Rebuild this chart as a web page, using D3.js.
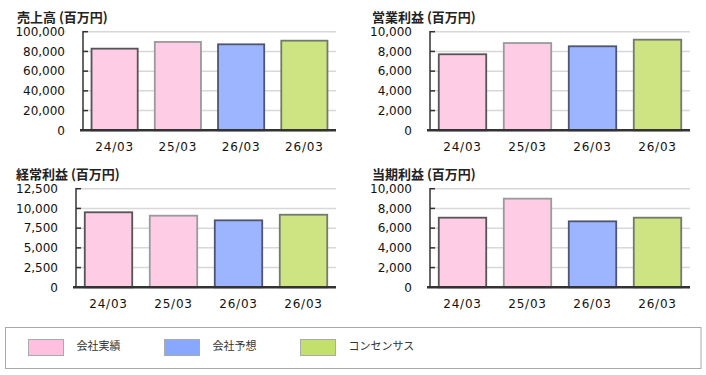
<!DOCTYPE html>
<html>
<head>
<meta charset="utf-8">
<script src="https://cdn.jsdelivr.net/npm/d3@7"></script>
<style>
  body { margin: 0; background: #fff; }
  svg { display: block; }
</style>
</head>
<body>
<div id="vis"></div>
<script>
// data
const periods = ["24/03", "25/03", "26/03", "26/03"];
const kinds = ["会社実績", "会社実績", "会社予想", "コンセンサス"];
const sales = [82800, 89600, 87200, 90900];
const operatingProfit = [7710, 8850, 8520, 9190];
const ordinaryProfit = [9510, 9080, 8490, 9200];
const netProfit = [7060, 8990, 6690, 7060];
const salesTicks = [0, 20000, 40000, 60000, 80000, 100000];
const opTicks = [0, 2000, 4000, 6000, 8000, 10000];
const ordTicks = [0, 2500, 5000, 7500, 10000, 12500];
const netTicks = [0, 2000, 4000, 6000, 8000, 10000];
const legendLabels = ["会社実績", "会社予想", "コンセンサス"];

const W = 706, H = 375;

// colours per kind
const barFill = {"会社実績": "#ffcce6", "会社予想": "#9db4ff", "コンセンサス": "#cee482"};
const legendFill = {"会社実績": "#ffc0e0", "会社予想": "#88a8ff", "コンセンサス": "#c4e06c"};
const barStroke = ["#555", "#9a9a9a", "#4d5570", "#737a6a"];

const panels = [
  {title: "売上高 (百万円)", values: sales, ticks: salesTicks, left: 83, right: 336, top: 31.7, bottom: 130.3, tx: 17, ty: 18},
  {title: "営業利益 (百万円)", values: operatingProfit, ticks: opTicks, left: 430, right: 690, top: 31.7, bottom: 130.3, tx: 372, ty: 18},
  {title: "経常利益 (百万円)", values: ordinaryProfit, ticks: ordTicks, left: 76, right: 336, top: 188.7, bottom: 287.3, tx: 16, ty: 175.5},
  {title: "当期利益 (百万円)", values: netProfit, ticks: netTicks, left: 430, right: 690, top: 188.7, bottom: 287.3, tx: 372, ty: 175.5}
];

const svg = d3.select("#vis").append("svg")
    .attr("width", W)
    .attr("height", H);

const fmt = d3.format(",");

panels.forEach(function(p) {
  const g = svg.append("g");

  const x = d3.scaleBand()
      .domain(d3.range(periods.length))
      .range([p.left, p.right])
      .paddingInner(0.27)
      .paddingOuter(0.135);

  const y = d3.scaleLinear()
      .domain([0, d3.max(p.ticks)])
      .range([p.bottom, p.top]);

  // title
  g.append("text")
    .attr("x", p.tx)
    .attr("y", p.ty)
    .attr("dominant-baseline", "middle")
    .style("font-family", "'Noto Sans CJK JP', sans-serif")
    .style("font-size", "13px")
    .style("font-weight", "bold")
    .style("fill", "#222")
    .text(p.title);

  // gridlines
  g.selectAll(".grid")
    .data(p.ticks.slice(1))
    .enter().append("line")
      .attr("x1", p.left)
      .attr("x2", p.right)
      .attr("y1", d => y(d))
      .attr("y2", d => y(d))
      .attr("stroke", "#d8d8d8")
      .attr("stroke-width", 1.5);

  // y axis
  const yAxis = g.append("g")
      .attr("transform", `translate(${p.left},0)`)
      .call(d3.axisLeft(y).tickValues(p.ticks).tickFormat(fmt).tickSize(0).tickPadding(18));
  yAxis.select(".domain").remove();
  yAxis.selectAll("text")
    .style("font-family", "'DejaVu Sans', sans-serif")
    .style("font-size", "12px")
    .style("fill", "#111");

  g.selectAll(".ytick")
    .data(p.ticks.slice(1))
    .enter().append("line")
      .attr("x1", p.left)
      .attr("x2", p.left + 5)
      .attr("y1", d => y(d))
      .attr("y2", d => y(d))
      .attr("stroke", "#333")
      .attr("stroke-width", 1.5);

  g.append("line")
    .attr("x1", p.left)
    .attr("x2", p.left)
    .attr("y1", p.top - 0.7)
    .attr("y2", p.bottom)
    .attr("stroke", "#333")
    .attr("stroke-width", 1.5);

  // bars
  g.selectAll(".bar")
    .data(p.values)
    .enter().append("rect")
      .attr("x", (d, i) => x(i))
      .attr("y", d => y(d))
      .attr("width", x.bandwidth())
      .attr("height", d => p.bottom - y(d))
      .attr("fill", (d, i) => barFill[kinds[i]])
      .attr("stroke", (d, i) => barStroke[i])
      .attr("stroke-width", 1.8);

  // baseline
  g.append("line")
    .attr("x1", p.left - 3)
    .attr("x2", p.right)
    .attr("y1", p.bottom)
    .attr("y2", p.bottom)
    .attr("stroke", "#333")
    .attr("stroke-width", 2.5);

  // x labels
  g.selectAll(".xlab")
    .data(periods)
    .enter().append("text")
      .attr("x", (d, i) => x(i) + x.bandwidth() / 2)
      .attr("y", p.bottom + 17)
      .attr("text-anchor", "middle")
      .attr("dominant-baseline", "middle")
      .style("font-family", "'DejaVu Sans', sans-serif")
      .style("font-size", "12px")
      .style("letter-spacing", "0.8px")
      .style("fill", "#111")
      .text(d => d);
});

// legend
svg.append("rect")
  .attr("x", 5.5)
  .attr("y", 327.5)
  .attr("width", 695.5)
  .attr("height", 41)
  .attr("fill", "#fff")
  .attr("stroke", "#aaa")
  .attr("stroke-width", 1);

const legendX = d3.scalePoint()
    .domain(legendLabels)
    .range([28.5, 300.5]);

const lg = svg.selectAll(".leg")
  .data(legendLabels)
  .enter().append("g")
    .attr("transform", d => `translate(${legendX(d)},339.5)`);

lg.append("rect")
  .attr("width", 35)
  .attr("height", 16)
  .attr("fill", d => legendFill[d])
  .attr("stroke", "#aaa")
  .attr("stroke-width", 1);

lg.append("text")
  .attr("x", 48)
  .attr("y", 8)
  .attr("dominant-baseline", "middle")
  .style("font-family", "'Noto Sans CJK JP', sans-serif")
  .style("font-size", "11px")
  .style("fill", "#333")
  .text(d => d);
</script>
</body>
</html>
